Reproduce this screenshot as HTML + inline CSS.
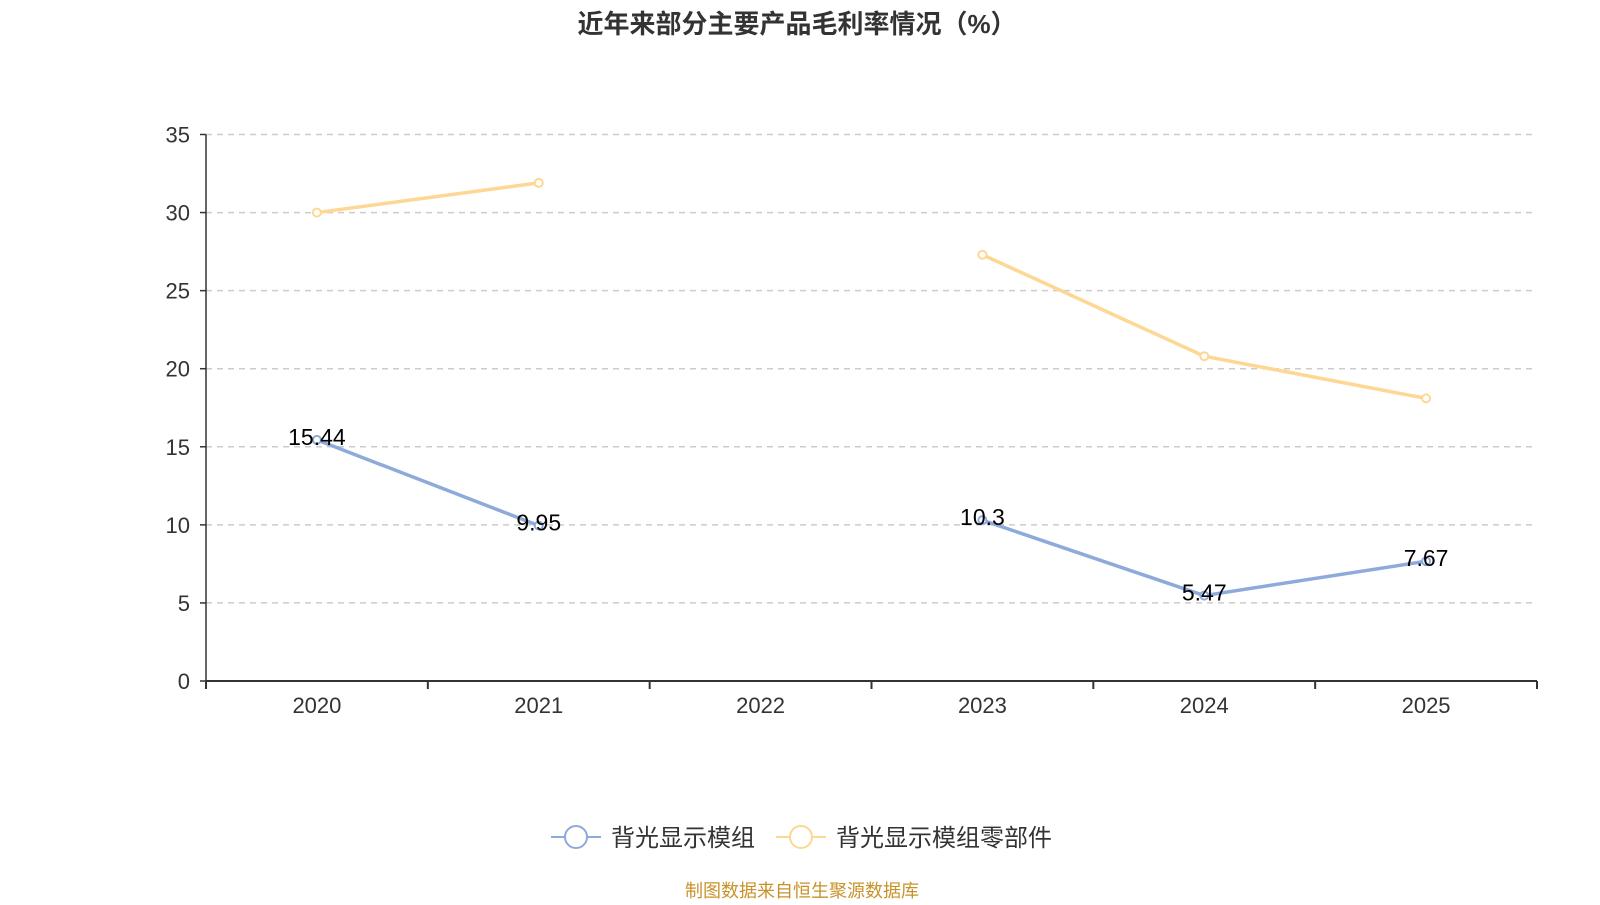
<!DOCTYPE html>
<html><head><meta charset="utf-8"><style>
body{margin:0;background:#fff;width:1600px;height:900px;overflow:hidden;font-family:"Liberation Sans","Noto Sans CJK SC",sans-serif}
</style></head><body>
<svg id="c" width="1600" height="900" xmlns="http://www.w3.org/2000/svg">
<text x="797" y="33" text-anchor="middle" font-size="26" font-weight="bold" fill="#333" font-family="Liberation Sans,Noto Sans CJK SC,sans-serif">近年来部分主要产品毛利率情况（%）</text>
<g id="grid"></g><g id="axes"></g><g id="series"></g>
<g>
<g>
<line x1="551" y1="837" x2="601" y2="837" stroke="#8eaadb" stroke-width="2"/><circle cx="576" cy="837" r="11" fill="#fff" stroke="#8eaadb" stroke-width="2"/>
<text x="611" y="846" font-size="24" fill="#333" font-family="Liberation Sans,Noto Sans CJK SC,sans-serif">背光显示模组</text></g>
<g>
<line x1="776" y1="837" x2="826" y2="837" stroke="#fdd793" stroke-width="2"/><circle cx="801" cy="837" r="11" fill="#fff" stroke="#fdd793" stroke-width="2"/>
<text x="836" y="846" font-size="24" fill="#333" font-family="Liberation Sans,Noto Sans CJK SC,sans-serif">背光显示模组零部件</text></g>
</g>
<text x="802" y="897" text-anchor="middle" font-size="18" fill="#c8922a" font-family="Liberation Sans,Noto Sans CJK SC,sans-serif">制图数据来自恒生聚源数据库</text>
</svg>
<script>
const categories=["2020","2021","2022","2023","2024","2025"];
const moduleValues=[15.44,9.95,null,10.3,5.47,7.67];
const partsValues=[30.0,31.9,null,27.3,20.8,18.1];
const yTicks=[0,5,10,15,20,25,30,35];
const L=206,R=1537,T=134.5,B=681,yMax=35;
const bw=(R-L)/categories.length;
const x=i=>L+bw*(i+0.5);
const y=v=>B-(v/yMax)*(B-T);
const NS="http://www.w3.org/2000/svg";
function mk(tag,attrs,parent,txt){const e=document.createElementNS(NS,tag);for(const k in attrs)e.setAttribute(k,attrs[k]);if(txt!=null)e.textContent=txt;parent.appendChild(e);return e;}
const grid=document.getElementById('grid'),axes=document.getElementById('axes'),ser=document.getElementById('series');
const F="Liberation Sans,Noto Sans CJK SC,sans-serif";
yTicks.forEach(t=>{
 if(t>0){const g=mk('line',{x1:L,x2:R,y1:y(t),y2:y(t),stroke:'#ccc','stroke-width':1.5,'stroke-dasharray':'6,5'},grid);
 
 }
 const tk=mk('line',{x1:L-6,x2:L,y1:y(t),y2:y(t),stroke:'#333','stroke-width':1.5},axes);
 
 
 const lb=mk('text',{x:L-16,y:y(t)+8,'text-anchor':'end','font-size':22,fill:'#333','font-family':F},axes,String(t));
 
 
});
const ya=mk('line',{x1:L,x2:L,y1:T,y2:B,stroke:'#333','stroke-width':1.5},axes);


const xa=mk('line',{x1:L,x2:R,y1:B,y2:B,stroke:'#333','stroke-width':2},axes);


for(let i=0;i<=categories.length;i++){const t=mk('line',{x1:L+bw*i,x2:L+bw*i,y1:B,y2:B+8,stroke:'#333','stroke-width':2},axes);
 
 }
categories.forEach((c,i)=>{const t=mk('text',{x:x(i),y:B+32,'text-anchor':'middle','font-size':22,fill:'#333','font-family':F},axes,c);
 
 });
function draw(vals,color,name,labels){
 let segs=[],cur=[];
 vals.forEach((v,i)=>{if(v==null){if(cur.length)segs.push(cur);cur=[];}else cur.push([x(i),y(v)]);});
 if(cur.length)segs.push(cur);
 segs.forEach(s=>{const p=mk('polyline',{points:s.map(q=>q.join(',')).join(' '),fill:'none',stroke:color,'stroke-width':3.5},ser);
  
  });
 vals.forEach((v,i)=>{if(v==null)return;
  const c=mk('circle',{cx:x(i),cy:y(v),r:4,fill:'#fff',stroke:color,'stroke-width':2},ser);
  
  
  if(labels){const t=mk('text',{x:x(i),y:y(v)+5,'text-anchor':'middle','font-size':23,fill:'#000','font-family':F},ser,String(v));
   
   }
 });
}
draw(partsValues,'#fdd793','parts-series',false);
draw(moduleValues,'#8eaadb','module-series',true);
</script>
</body></html>
